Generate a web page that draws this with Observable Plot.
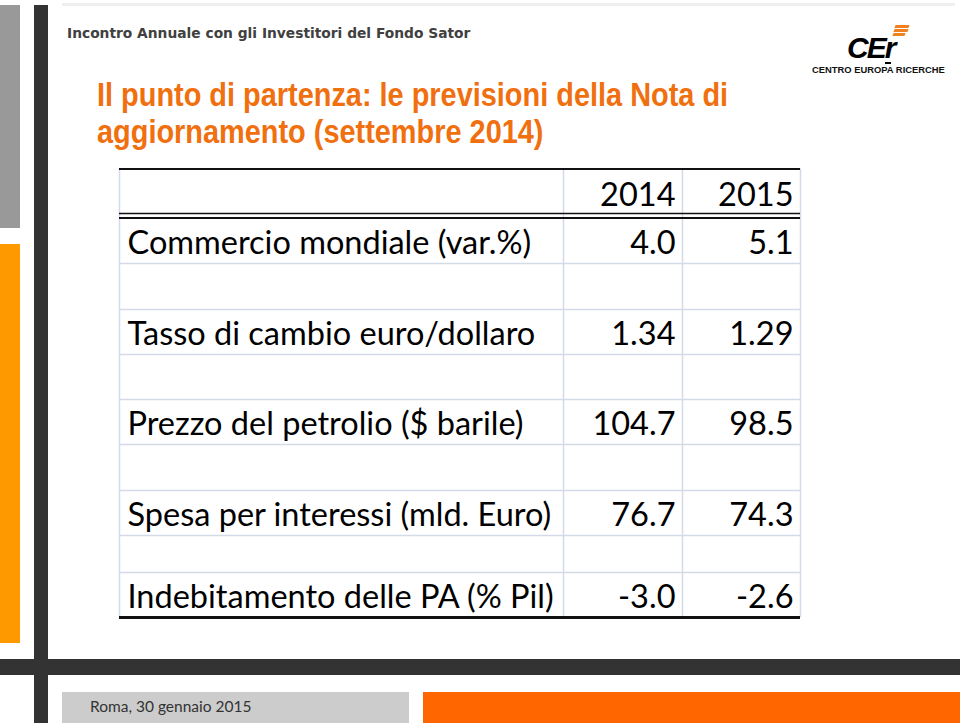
<!DOCTYPE html>
<html>
<head>
<meta charset="utf-8">
<script src="https://cdn.jsdelivr.net/npm/d3@7"></script>
<script src="https://cdn.jsdelivr.net/npm/@observablehq/plot@0.6"></script>
<style>
  html, body { margin: 0; padding: 0; background: #fff; }
  #slide { position: relative; width: 960px; height: 723px; overflow: hidden; background: #fff; }
  .abs { position: absolute; }
  #hdr { left: 67px; top: 26px; font: bold 13.8px "DejaVu Sans", Verdana, sans-serif; line-height: 14px; color: #404040; white-space: nowrap; }
  #title { left: 97px; top: 76px; font: bold 34px "Liberation Sans", Arial, sans-serif; line-height: 37px; color: #F0700F; white-space: nowrap; transform: scaleX(0.85); transform-origin: 0 0; }
  #foot { left: 90px; top: 697px; font: 15.5px Lato, sans-serif; line-height: 18px; color: #333; white-space: nowrap; }
  #plot { position: absolute; left: 0; top: 0; }
</style>
</head>
<body>
<div id="slide">
  <div class="abs" style="left:62px;top:3px;width:893px;height:3px;background:#efefef"></div>
  <div class="abs" style="left:0;top:5px;width:20px;height:223px;background:#999"></div>
  <div class="abs" style="left:0;top:244px;width:20px;height:399px;background:#FF9900"></div>
  <div class="abs" style="left:34px;top:5px;width:14px;height:718px;background:#333"></div>
  <div class="abs" style="left:0;top:659px;width:960px;height:16px;background:#333"></div>
  <div class="abs" style="left:62px;top:692px;width:347px;height:31px;background:#ccc"></div>
  <div class="abs" style="left:423px;top:692px;width:537px;height:31px;background:#FF6600"></div>
  <div id="hdr" class="abs">Incontro Annuale con gli Investitori del Fondo Sator</div>
  <div id="title" class="abs">Il punto di partenza: le previsioni della Nota di<br>aggiornamento (settembre 2014)</div>
  <div id="foot" class="abs">Roma, 30 gennaio 2015</div>
  <!-- logo -->
  <div class="abs" style="left:847px;top:33px;font:italic 900 30px 'Liberation Sans', Arial, sans-serif;letter-spacing:-2px;line-height:30px;color:#000">CEr</div>
  <div class="abs" style="left:895px;top:25px;width:14px;height:3px;background:#F08020;transform:skewX(-20deg)"></div>
  <div class="abs" style="left:894px;top:29px;width:14px;height:3px;background:#F08020;transform:skewX(-20deg)"></div>
  <div class="abs" style="left:893px;top:33px;width:12px;height:3px;background:#F08020;transform:skewX(-20deg)"></div>
  <div class="abs" style="left:885px;top:62px;width:6px;height:2px;background:#000"></div>
  <div class="abs" style="left:812px;top:65px;font:bold 9.4px 'Liberation Sans', Arial, sans-serif;line-height:10px;color:#111;white-space:nowrap">CENTRO EUROPA RICERCHE</div>
  <div id="plot"></div>
</div>
<script>
// ---- data ----
const years = ["2014", "2015"];
const indicators = [
  "Commercio mondiale (var.%)",
  "Tasso di cambio euro/dollaro",
  "Prezzo del petrolio ($ barile)",
  "Spesa per interessi (mld. Euro)",
  "Indebitamento delle PA (% Pil)"
];
const values2014 = [4.0, 1.34, 104.7, 76.7, -3.0];
const values2015 = [5.1, 1.29, 98.5, 74.3, -2.6];
const decimals = [1, 2, 1, 1, 1];

// ---- table layout (column widths / row heights, in px) ----
const colWidths = [444, 119, 118];
const rowHeights = [46.5, 48, 46, 45, 45, 45, 46, 45, 37, 45];
const colEdges = [0, ...d3.cumsum(colWidths)];
const rowEdges = [0, ...d3.cumsum(rowHeights)];

// header occupies row 0; indicator i occupies row 2i+1; blank rows between
const rows = indicators.map((name, i) => ({
  name,
  bottom: rowEdges[2 * i + 2],
  v2014: values2014[i].toFixed(decimals[i]),
  v2015: values2015[i].toFixed(decimals[i])
}));
const header = years.map((y, j) => ({year: y, right: colEdges[j + 2]}));
const tableW = colEdges[colEdges.length - 1];
const tableH = rowEdges[rowEdges.length - 1];

const font = "Lato, 'Noto Sans', sans-serif";
const fs = 32.5;
const grid = "#d4dbe8";

const chart = Plot.plot({
  width: 960,
  height: 723,
  margin: 0,
  style: {background: "transparent", overflow: "visible"},
  x: {axis: null, domain: [0, tableW], range: [119, 119 + tableW]},
  y: {axis: null, domain: [0, tableH], range: [168.5, 168.5 + tableH]},
  marks: [
    Plot.ruleX(colEdges, {y1: 0, y2: tableH, stroke: grid, strokeWidth: 1.5}),
    Plot.ruleY(rowEdges.slice(2, -1), {x1: 0, x2: tableW, stroke: grid, strokeWidth: 1.5}),
    Plot.ruleY([rowEdges[0]], {x1: 0, x2: tableW, stroke: "#111", strokeWidth: 2}),
    Plot.ruleY([rowEdges[1]], {x1: 0, x2: tableW, stroke: "#111", strokeWidth: 1.5, dy: -2}),
    Plot.ruleY([rowEdges[1]], {x1: 0, x2: tableW, stroke: "#111", strokeWidth: 2, dy: 2.5}),
    Plot.ruleY([tableH], {x1: 0, x2: tableW, stroke: "#111", strokeWidth: 3}),
    Plot.text(header, {x: "right", y: () => rowEdges[1], text: "year", textAnchor: "end", lineAnchor: "bottom", dx: -7, dy: -10, fontSize: fs, fontFamily: font, fill: "#000"}),
    Plot.text(rows, {x: () => colEdges[0], y: "bottom", text: "name", textAnchor: "start", lineAnchor: "bottom", dx: 8, dy: -10, fontSize: fs, fontFamily: font, fill: "#000"}),
    Plot.text(rows, {x: () => colEdges[2], y: "bottom", text: "v2014", textAnchor: "end", lineAnchor: "bottom", dx: -7, dy: -10, fontSize: fs, fontFamily: font, fill: "#000"}),
    Plot.text(rows, {x: () => colEdges[3], y: "bottom", text: "v2015", textAnchor: "end", lineAnchor: "bottom", dx: -7, dy: -10, fontSize: fs, fontFamily: font, fill: "#000"})
  ]
});
document.getElementById("plot").appendChild(chart);
</script>
</body>
</html>
